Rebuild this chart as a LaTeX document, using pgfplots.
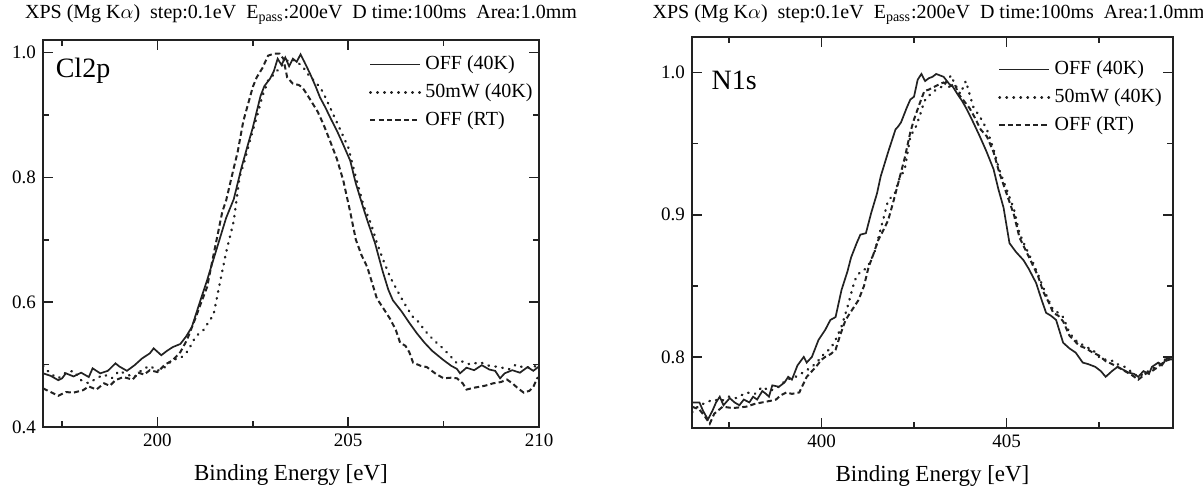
\documentclass[border=0pt]{standalone}
\usepackage{fontspec}
\setmainfont{Liberation Serif}
\usepackage{pgfplots}
\pgfplotsset{compat=1.18}
\definecolor{ink}{HTML}{222222}
\pgfplotsset{
  xpsax/.style={
    scale only axis,
    axis line style={line width=0.8pt, ink},
    tick align=inside,
    major tick length=5pt, minor tick length=3pt,
    xtick pos=both, ytick pos=both,
    every tick/.style={line width=0.8pt, ink},
    ticklabel style={font=\fontsize{9.5}{10}\selectfont},
    /pgf/number format/assume math mode=true,
    yticklabel style={/pgf/number format/.cd, fixed, fixed zerofill, precision=1},
    xticklabel style={/pgf/number format/.cd, fixed, precision=0, 1000 sep={}},
    xlabel={Binding Energy [eV]},
    xlabel style={font=\fontsize{11.5}{13}\selectfont, yshift=-2pt},
    title style={font=\fontsize{10}{11}\selectfont},
    legend style={draw=none, fill=none, font=\fontsize{10}{12}\selectfont,
      anchor=north east, at={(1.0,0.975)}, row sep=1.5pt, inner sep=1pt},
    legend cell align=left,
    legend image code/.code={\draw[#1] (0pt,0pt) -- (25pt,0pt);},
  },
  offs/.style={ink, line width=0.85pt},
  mw/.style={ink, line width=1.2pt, line cap=round, dash pattern=on 0.3pt off 3.2pt},
  rt/.style={ink, line width=1.0pt, dash pattern=on 2.6pt off 1.6pt},
}
\begin{document}
\begin{tikzpicture}
\path[use as bounding box] (0pt,0pt) rectangle (601.5pt,243pt);
% ---------------- Cl2p ----------------
\begin{axis}[xpsax,
  at={(21.5pt,29.5pt)}, anchor=south west,
  width=248pt, height=193.5pt,
  xmin=197, xmax=210, ymin=0.4, ymax=1.02,
  xtick={200,205,210}, minor xtick={197.5,202.5,207.5},
  ytick={0.4,0.6,0.8,1.0}, minor ytick={0.5,0.7,0.9},
  title={XPS (Mg K$\alpha$)\ \ step:0.1eV\ \ E\textsubscript{pass}:200eV\ \ D time:100ms\ \ Area:1.0mm},
  title style={at={(0.5,1)}, anchor=south, yshift=-2pt, xshift=5pt},
]
\addplot[offs] table {
197.0 0.486
197.2 0.482
197.4 0.475
197.5 0.478
197.6 0.486
197.8 0.481
198.0 0.487
198.2 0.480
198.3 0.494
198.5 0.486
198.7 0.490
198.9 0.502
199.0 0.497
199.2 0.490
199.4 0.499
199.6 0.510
199.8 0.518
199.9 0.526
200.1 0.515
200.25 0.522
200.4 0.528
200.6 0.533
200.75 0.545
200.9 0.560
201.1 0.598
201.3 0.635
201.5 0.675
201.7 0.715
201.8 0.735
202.0 0.765
202.2 0.815
202.35 0.848
202.5 0.880
202.7 0.930
202.8 0.946
202.95 0.958
203.05 0.970
203.15 0.990
203.25 0.980
203.35 0.992
203.45 0.978
203.55 0.990
203.65 0.985
203.75 0.997
203.85 0.985
204.0 0.966
204.15 0.945
204.26 0.928
204.4 0.912
204.55 0.893
204.7 0.875
204.85 0.855
205.05 0.827
205.2 0.790
205.39 0.752
205.5 0.731
205.7 0.695
205.9 0.650
206.05 0.620
206.17 0.603
206.4 0.585
206.6 0.567
206.8 0.550
207.0 0.535
207.2 0.522
207.4 0.512
207.5 0.507
207.7 0.498
207.85 0.493
207.93 0.486
208.1 0.495
208.3 0.491
208.5 0.499
208.7 0.492
208.85 0.490
208.98 0.478
209.1 0.486
209.3 0.491
209.5 0.487
209.7 0.496
209.85 0.490
210.0 0.497
};
\addlegendentry{OFF (40K)}
\addplot[mw] table {
197.0 0.498
197.2 0.485
197.4 0.478
197.6 0.487
197.8 0.490
198.0 0.475
198.2 0.470
198.4 0.478
198.6 0.484
198.8 0.478
199.0 0.490
199.2 0.484
199.4 0.480
199.6 0.492
199.8 0.498
200.0 0.490
200.2 0.496
200.4 0.508
200.6 0.510
200.8 0.522
201.0 0.545
201.2 0.555
201.47 0.580
201.6 0.620
201.8 0.680
202.0 0.730
202.15 0.800
202.3 0.830
202.45 0.865
202.6 0.896
202.75 0.930
202.9 0.955
203.05 0.965
203.2 0.975
203.35 0.985
203.5 0.990
203.65 0.985
203.8 0.978
203.95 0.965
204.1 0.955
204.25 0.945
204.35 0.935
204.5 0.915
204.65 0.895
204.8 0.875
205.0 0.848
205.2 0.800
205.4 0.755
205.6 0.725
205.75 0.695
205.92 0.667
206.1 0.640
206.36 0.610
206.55 0.590
206.7 0.576
206.85 0.568
207.0 0.555
207.15 0.545
207.3 0.536
207.5 0.525
207.7 0.512
207.85 0.502
208.0 0.505
208.2 0.500
208.45 0.504
208.7 0.498
208.98 0.496
209.2 0.492
209.4 0.500
209.6 0.495
209.85 0.496
210.0 0.500
};
\addlegendentry{50mW (40K)}
\addplot[rt] table {
197.0 0.462
197.2 0.456
197.4 0.450
197.6 0.456
197.8 0.455
198.05 0.459
198.2 0.465
198.4 0.460
198.6 0.470
198.75 0.466
198.9 0.475
199.1 0.480
199.35 0.476
199.5 0.487
199.65 0.484
199.8 0.491
200.0 0.488
200.2 0.500
200.4 0.507
200.6 0.520
200.77 0.539
201.0 0.575
201.15 0.600
201.3 0.624
201.5 0.685
201.7 0.745
201.8 0.763
202.0 0.815
202.1 0.840
202.25 0.890
202.35 0.912
202.5 0.945
202.6 0.960
202.75 0.975
202.9 0.995
203.05 0.998
203.2 0.998
203.3 0.990
203.4 0.960
203.55 0.950
203.7 0.948
203.8 0.944
204.0 0.925
204.2 0.905
204.35 0.885
204.5 0.862
204.7 0.830
204.87 0.795
205.05 0.745
205.2 0.700
205.35 0.675
205.5 0.656
205.75 0.606
205.9 0.592
206.1 0.573
206.25 0.555
206.36 0.535
206.5 0.530
206.6 0.520
206.7 0.503
206.9 0.498
207.06 0.496
207.3 0.485
207.5 0.478
207.7 0.479
207.85 0.478
208.0 0.470
208.1 0.460
208.3 0.463
208.5 0.465
208.64 0.467
208.8 0.470
209.0 0.472
209.16 0.476
209.3 0.470
209.45 0.462
209.6 0.455
209.75 0.458
209.85 0.464
209.95 0.478
210.0 0.480
};
\addlegendentry{OFF (RT)}
\node[anchor=north west, font=\fontsize{14}{16}\selectfont, inner sep=0pt] at (rel axis cs:0.025,0.955) {Cl2p};
\end{axis}
% ---------------- N1s ----------------
\begin{axis}[xpsax,
  at={(346pt,29pt)}, anchor=south west,
  width=240.5pt, height=195.5pt,
  xmin=396.5, xmax=409.5, ymin=0.75, ymax=1.025,
  xtick={400,405}, minor xtick={397.5,402.5,407.5},
  ytick={0.8,0.9,1.0}, minor ytick={0.85,0.95},
  title={XPS (Mg K$\alpha$)\ \ step:0.1eV\ \ E\textsubscript{pass}:200eV\ \ D time:100ms\ \ Area:1.0mm},
  title style={at={(0.5,1)}, anchor=south, yshift=-3.5pt, xshift=-2pt},
  legend style={at={(0.99,0.955)}},
]
\addplot[offs] table {
396.5 0.768
396.7 0.768
396.8 0.762
396.93 0.756
397.05 0.762
397.15 0.768
397.25 0.772
397.35 0.766
397.52 0.771
397.65 0.768
397.78 0.766
397.9 0.770
398.05 0.768
398.15 0.772
398.26 0.770
398.4 0.776
398.5 0.774
398.58 0.772
398.67 0.780
398.85 0.779
399.0 0.782
399.1 0.786
399.2 0.784
399.35 0.794
399.52 0.800
399.6 0.796
399.74 0.800
399.92 0.812
400.1 0.819
400.24 0.826
400.38 0.828
400.54 0.847
400.7 0.860
400.8 0.870
400.95 0.880
401.05 0.886
401.2 0.887
401.34 0.901
401.5 0.915
401.6 0.927
401.8 0.944
402.0 0.960
402.07 0.962
402.15 0.965
402.3 0.975
402.4 0.981
402.5 0.983
402.6 0.995
402.7 0.999
402.8 0.994
402.9 0.996
403.0 0.997
403.1 0.999
403.2 0.998
403.3 0.997
403.45 0.992
403.55 0.990
403.67 0.985
403.8 0.980
403.93 0.974
404.1 0.965
404.28 0.955
404.45 0.945
404.65 0.932
404.78 0.918
404.92 0.905
405.08 0.880
405.25 0.874
405.46 0.868
405.6 0.862
405.8 0.852
405.95 0.840
406.07 0.831
406.2 0.829
406.34 0.826
406.53 0.810
406.7 0.806
406.87 0.803
407.06 0.796
407.2 0.795
407.4 0.793
407.55 0.790
407.68 0.786
407.85 0.790
408.0 0.793
408.15 0.791
408.3 0.789
408.45 0.788
408.56 0.786
408.7 0.790
408.85 0.788
408.93 0.793
409.1 0.796
409.2 0.794
409.33 0.799
409.5 0.798
};
\addlegendentry{OFF (40K)}
\addplot[mw] table {
396.5 0.761
396.7 0.766
396.9 0.768
397.06 0.770
397.3 0.769
397.5 0.772
397.7 0.771
397.97 0.775
398.2 0.774
398.4 0.779
398.6 0.776
398.85 0.779
399.05 0.784
399.3 0.786
399.5 0.789
399.74 0.793
399.9 0.797
400.1 0.803
400.25 0.806
400.38 0.812
400.55 0.822
400.7 0.835
400.9 0.854
401.05 0.860
401.2 0.862
401.3 0.866
401.45 0.875
401.6 0.890
401.8 0.910
401.98 0.915
402.1 0.925
402.25 0.932
402.4 0.955
402.55 0.962
402.65 0.969
402.78 0.980
402.95 0.985
403.1 0.988
403.25 0.990
403.4 0.994
403.5 0.998
403.6 0.992
403.75 0.985
403.9 0.994
404.0 0.985
404.1 0.976
404.3 0.968
404.47 0.960
404.65 0.946
404.8 0.932
405.0 0.918
405.2 0.904
405.35 0.887
405.5 0.878
405.72 0.866
405.85 0.858
405.99 0.849
406.1 0.842
406.26 0.833
406.4 0.831
406.53 0.828
406.7 0.817
406.85 0.812
406.96 0.810
407.15 0.807
407.33 0.805
407.5 0.800
407.68 0.798
407.9 0.797
408.05 0.794
408.2 0.793
408.4 0.789
408.56 0.786
408.75 0.789
408.93 0.791
409.1 0.795
409.28 0.798
409.5 0.800
};
\addlegendentry{50mW (40K)}
\addplot[rt] table {
396.5 0.765
396.7 0.763
396.85 0.758
396.98 0.753
397.1 0.760
397.33 0.765
397.6 0.764
397.97 0.765
398.2 0.767
398.4 0.768
398.6 0.769
398.77 0.770
398.9 0.773
399.05 0.775
399.2 0.774
399.4 0.775
399.6 0.786
399.85 0.793
400.0 0.798
400.1 0.800
400.25 0.802
400.38 0.805
400.5 0.815
400.65 0.826
400.8 0.832
401.0 0.840
401.15 0.850
401.27 0.863
401.4 0.872
401.53 0.882
401.65 0.888
401.8 0.896
401.95 0.910
402.1 0.925
402.25 0.940
402.4 0.958
402.5 0.967
402.65 0.978
402.78 0.987
402.9 0.988
403.05 0.990
403.2 0.992
403.3 0.993
403.45 0.990
403.6 0.992
403.7 0.985
403.85 0.980
404.0 0.975
404.15 0.968
404.3 0.960
404.47 0.955
404.65 0.944
404.8 0.930
405.0 0.915
405.2 0.900
405.35 0.884
405.5 0.876
405.72 0.864
405.85 0.857
405.99 0.846
406.15 0.838
406.26 0.831
406.4 0.829
406.53 0.825
406.7 0.815
406.85 0.811
406.96 0.808
407.15 0.806
407.33 0.803
407.5 0.801
407.68 0.797
407.85 0.795
408.0 0.793
408.2 0.790
408.4 0.787
408.56 0.784
408.75 0.788
408.93 0.790
409.1 0.793
409.28 0.797
409.5 0.799
};
\addlegendentry{OFF (RT)}
\node[anchor=north west, font=\fontsize{14}{16}\selectfont, inner sep=0pt] at (rel axis cs:0.04,0.915) {N1s};
\end{axis}
\end{tikzpicture}
\end{document}
